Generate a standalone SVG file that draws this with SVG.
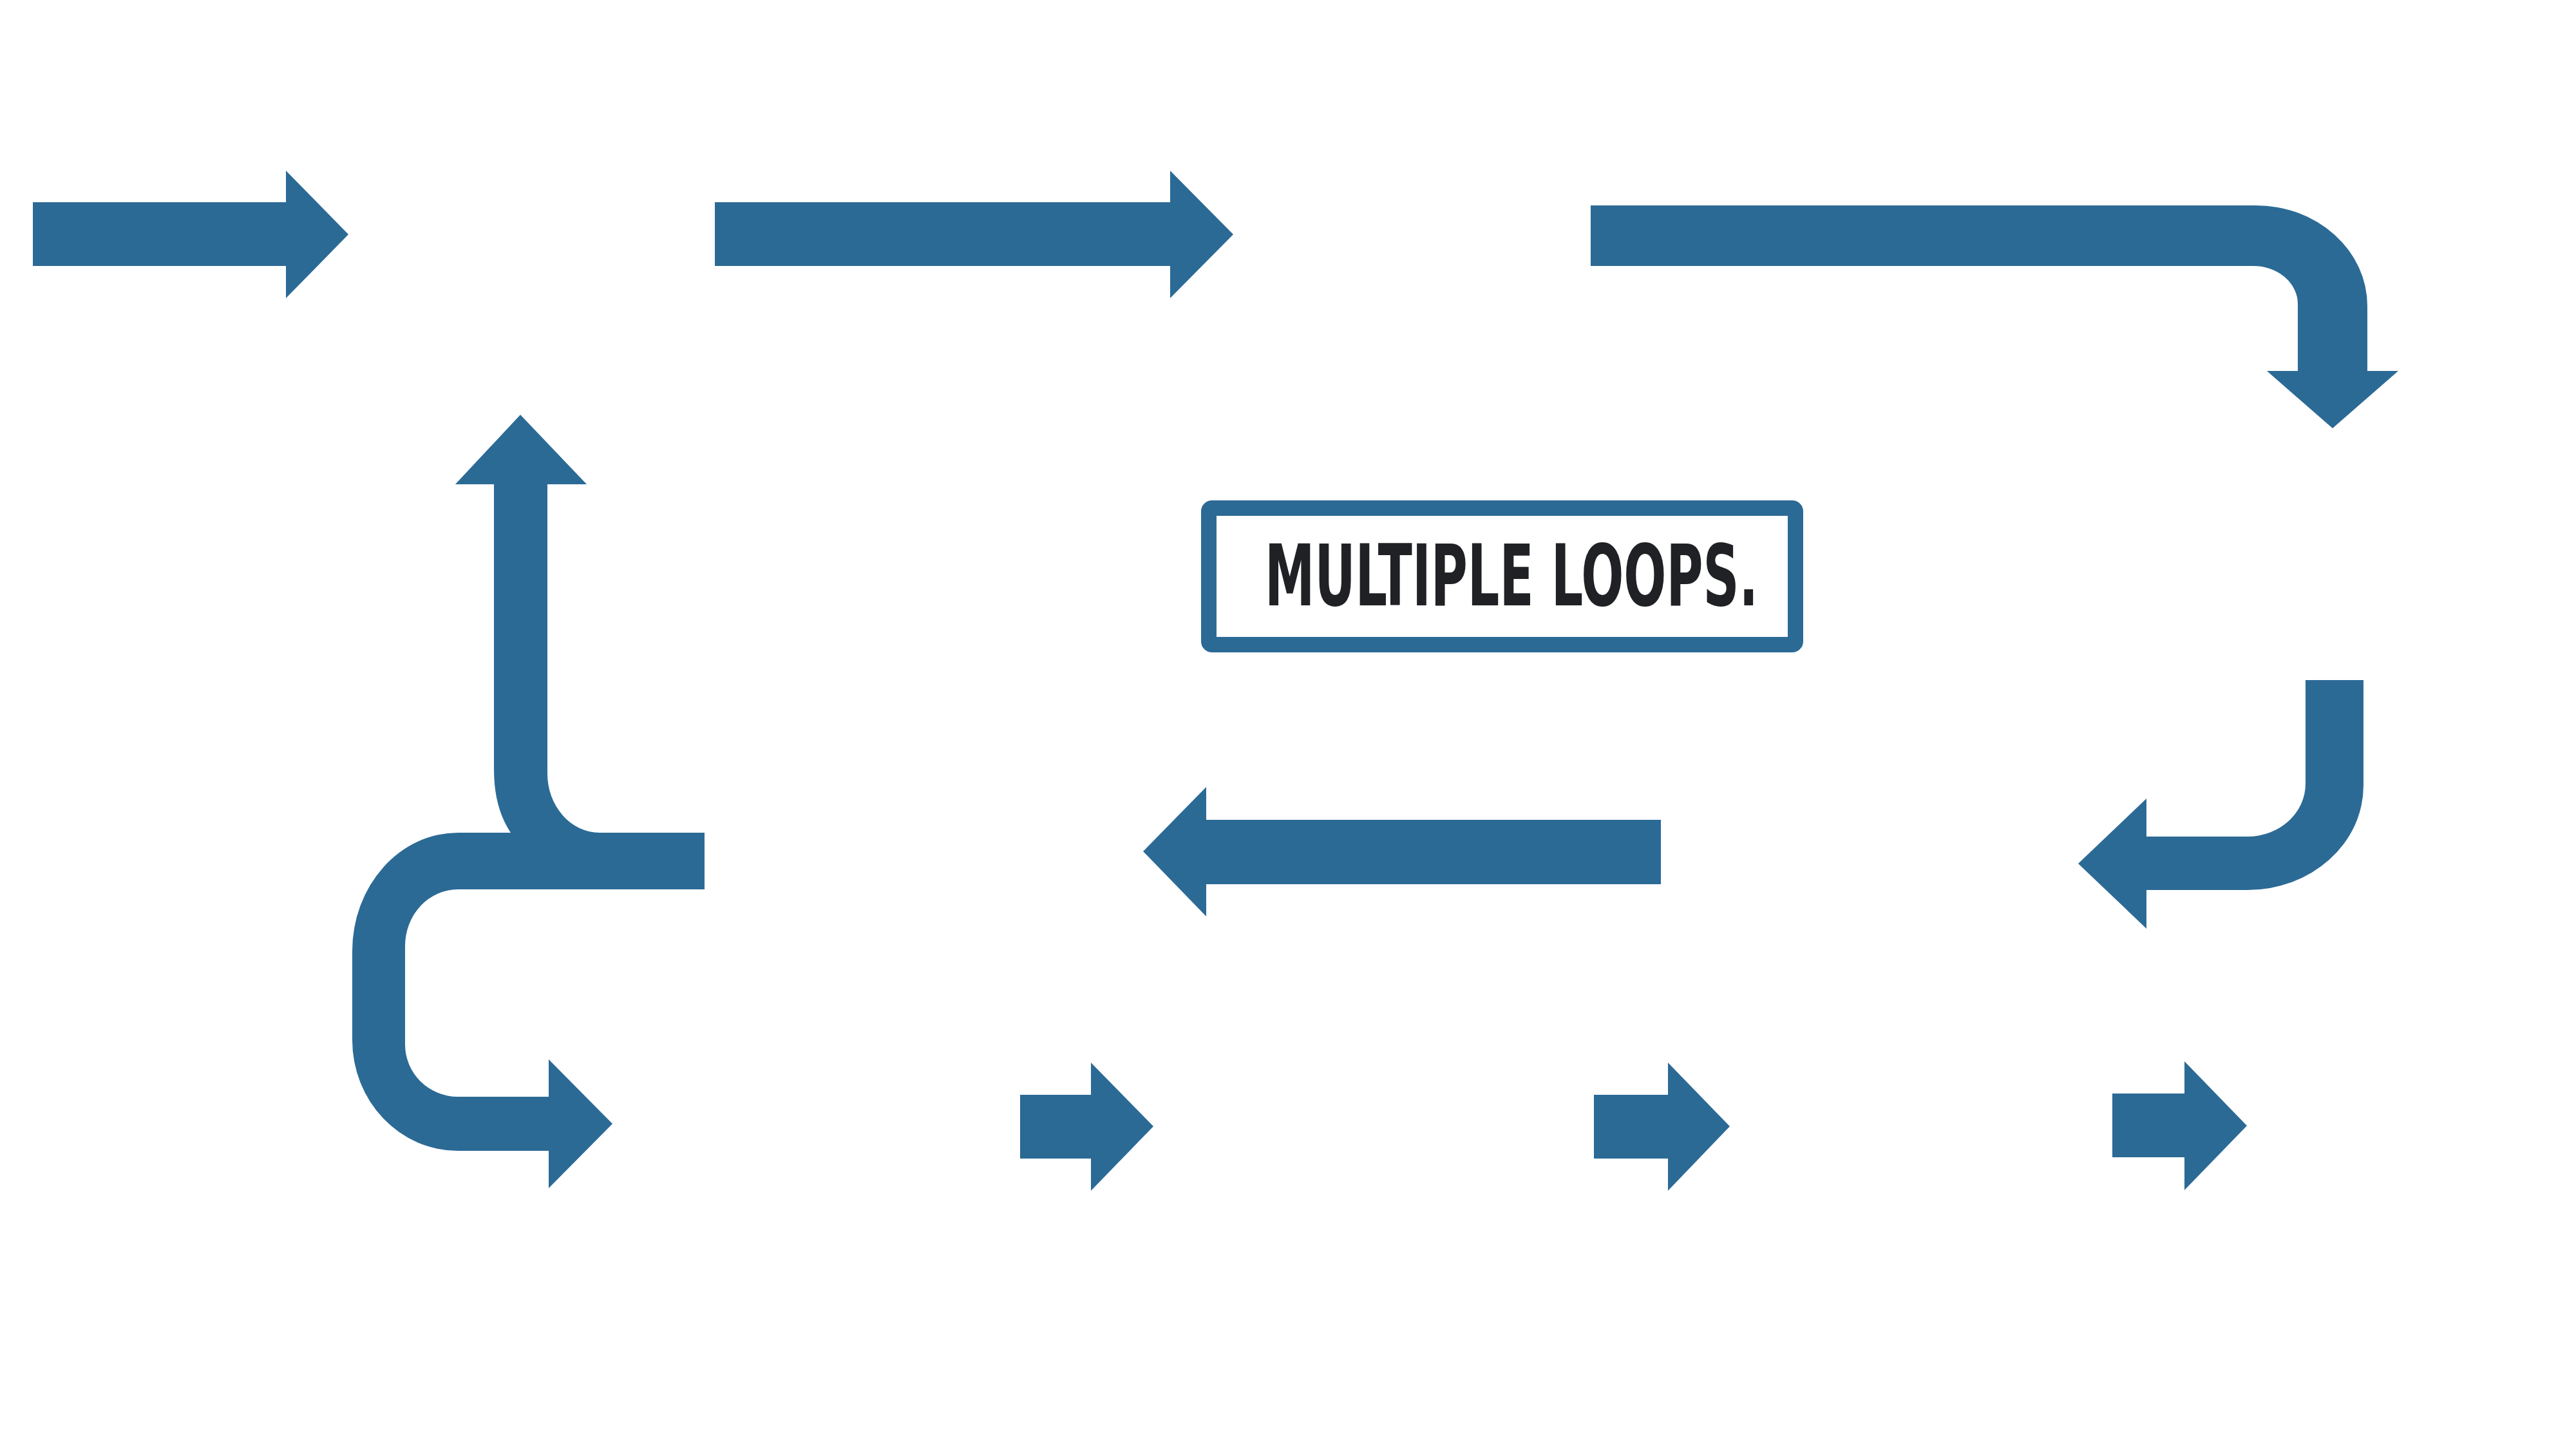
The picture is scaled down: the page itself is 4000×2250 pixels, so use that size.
<svg xmlns="http://www.w3.org/2000/svg" width="4000" height="2250" viewBox="0 0 4000 2250">
<style>
.arr{fill:#2C6A96;stroke:none}
.box{fill:#ffffff;stroke:#2C6A96;stroke-width:24}
.title{font-family:"Liberation Sans Narrow","DejaVu Sans Condensed","Liberation Sans",sans-serif;font-weight:bold;fill:#202124;font-size:131px}
</style>
<rect width="4000" height="2250" fill="#ffffff"/>
<g id="connectors">
<polygon id="arrow1" class="arr" points="51,314 444,314 444,265 541,364 444,463 444,413 51,413"/>
<polygon id="arrow2" class="arr" points="1110,314 1817,314 1817,265 1915,364 1817,463 1817,413 1110,413"/>
<path id="arrow3" class="arr" d="M2470,319 L3503,319 A173,156 0 0 1 3676,475 L3676,576 L3724,576 L3622,665 L3520,576 L3568,576 L3568,472 A69,59 0 0 0 3499,413 L2470,413 Z"/>
<path id="arrow4" class="arr" d="M3580,1056 L3670,1056 L3670,1220 A180,162 0 0 1 3490,1382 L3333,1382 L3333,1442 L3227,1341 L3333,1240 L3333,1299 L3490,1299 A90,82 0 0 0 3580,1217 Z"/>
<polygon id="arrow5" class="arr" points="2579,1273 1873,1273 1873,1222 1775,1322 1873,1423 1873,1373 2579,1373"/>
<path id="arrow6" class="arr" d="M793,1293 C778,1270 767,1240 767,1194 L767,752 L707,752 L808,644 L911,752 L850,752 L850,1201 A81,92 0 0 0 931,1293 Z"/>
<path id="arrow7" class="arr" d="M1094,1293 L711,1293 A164,184 0 0 0 547,1477 L547,1615 A164,172 0 0 0 711,1787 L852,1787 L852,1845 L951,1745 L852,1645 L852,1703 L711,1703 A82,81 0 0 1 629,1622 L629,1469 A82,88 0 0 1 711,1381 L1094,1381 Z"/>
<polygon id="arrow8" class="arr" points="1584,1700 1694,1700 1694,1650 1791,1749 1694,1849 1694,1799 1584,1799"/>
<polygon id="arrow9" class="arr" points="2475,1700 2590,1700 2590,1650 2686,1749 2590,1849 2590,1799 2475,1799"/>
<polygon id="arrow10" class="arr" points="3280,1698 3392,1698 3392,1648 3489,1748 3392,1848 3392,1797 3280,1797"/>
</g>
<g id="node-title">
<rect class="box" x="1877" y="789" width="911" height="212" rx="5"/>
<text class="title" x="1964" y="940" textLength="766" lengthAdjust="spacingAndGlyphs">MULTIPLE LOOPS.</text>
</g>
</svg>
